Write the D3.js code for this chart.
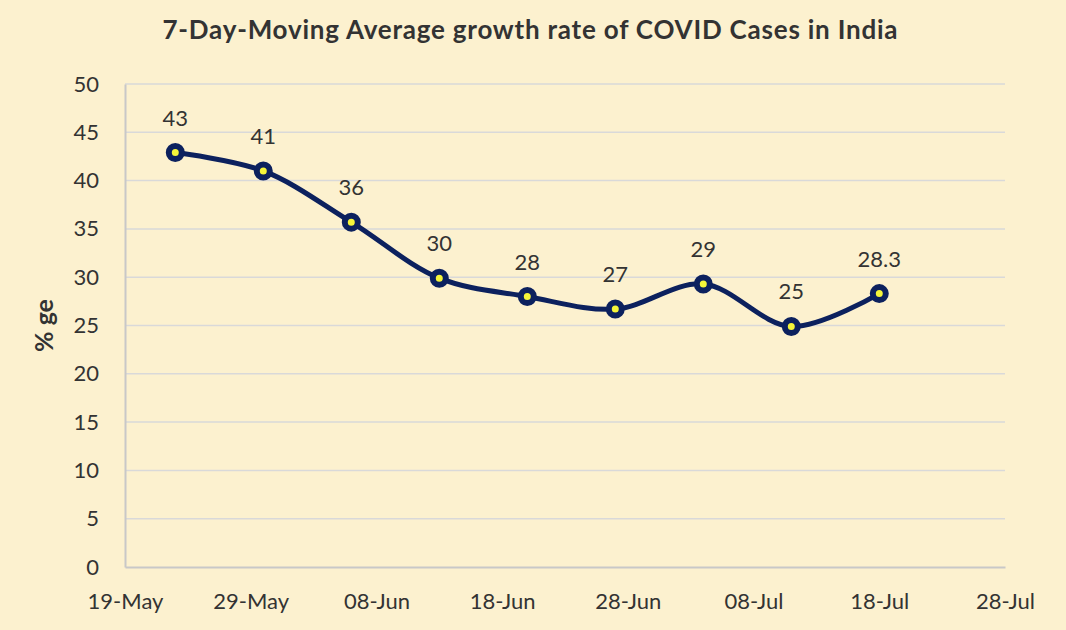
<!DOCTYPE html>
<html>
<head>
<meta charset="utf-8">
<script src="https://cdn.jsdelivr.net/npm/d3@7"></script>
<style>
html,body{margin:0;padding:0;background:#fcf1cf;}
svg{display:block;}
text{font-family:Lato, "Open Sans", sans-serif;fill:#333333;}
</style>
</head>
<body>
<svg id="chart" width="1066" height="630"></svg>
<script>
const dates = ["2020-05-23","2020-05-30","2020-06-06","2020-06-13","2020-06-20","2020-06-27","2020-07-04","2020-07-11","2020-07-18"];
const values = [42.9, 41.0, 35.7, 29.9, 28.0, 26.7, 29.3, 24.9, 28.3];
const labels = ["43","41","36","30","28","27","29","25","28.3"];
const xTicks = ["2020-05-19","2020-05-29","2020-06-08","2020-06-18","2020-06-28","2020-07-08","2020-07-18","2020-07-28"];
const yTicks = [0,5,10,15,20,25,30,35,40,45,50];

const parse = d3.timeParse("%Y-%m-%d");
const svg = d3.select("#chart");
const m = {left:125, right:1005, top:84, bottom:567};

const x = d3.scaleTime().domain([parse(xTicks[0]), parse(xTicks[xTicks.length-1])]).range([m.left, m.right]);
const y = d3.scaleLinear().domain([0,50]).range([m.bottom, m.top]);

// gridlines
svg.append("g").selectAll("line").data(yTicks.filter(d=>d>0)).join("line")
  .attr("x1", m.left).attr("x2", m.right)
  .attr("y1", d=>y(d)).attr("y2", d=>y(d))
  .attr("stroke","#d9d9d9").attr("stroke-width",1.5);

// axes
const yAxis = d3.axisLeft(y).tickValues(yTicks).tickSize(0).tickPadding(26);
const gy = svg.append("g").attr("transform",`translate(${m.left},0)`).call(yAxis);
gy.select(".domain").attr("stroke","#c8c8c8").attr("stroke-width",2);
gy.selectAll("text").style("font-size","22px").attr("fill","#333");

const xAxis = d3.axisBottom(x).tickValues(xTicks.map(parse)).tickSize(0).tickPadding(26).tickFormat(d3.timeFormat("%d-%b"));
const gx = svg.append("g").attr("transform",`translate(0,${m.bottom})`).call(xAxis);
gx.select(".domain").attr("stroke","#c8c8c8").attr("stroke-width",2);
gx.selectAll("text").style("font-size","22px").attr("fill","#333");

// line
const pts = dates.map((d,i)=>({date:parse(d), v:values[i], label:labels[i]}));
const line = d3.line().x(d=>x(d.date)).y(d=>y(d.v)).curve(d3.curveCatmullRom.alpha(0.5));
svg.append("path").datum(pts).attr("d",line)
  .attr("fill","none").attr("stroke","#0c215e").attr("stroke-width",5).attr("stroke-linecap","round");

svg.append("g").selectAll("circle").data(pts).join("circle")
  .attr("cx",d=>x(d.date)).attr("cy",d=>y(d.v)).attr("r",6.5)
  .attr("fill","#f5f53a").attr("stroke","#0c215e").attr("stroke-width",6);

svg.append("g").selectAll("text").data(pts).join("text")
  .attr("x",d=>x(d.date)).attr("y",d=>y(d.v)-27)
  .attr("text-anchor","middle").style("font-size","22px").text(d=>d.label);

// title
svg.append("text").attr("x",530).attr("y",39).attr("text-anchor","middle")
  .attr("textLength",735).attr("lengthAdjust","spacing")
  .style("font-size","26px").style("font-weight","bold").text("7-Day-Moving Average growth rate of COVID Cases in India");

// y label
svg.append("text").attr("transform",`translate(53,${(m.top+m.bottom)/2}) rotate(-90)`)
  .attr("text-anchor","middle").style("font-size","25px").style("font-weight","bold").text("% ge");
</script>
</body>
</html>
